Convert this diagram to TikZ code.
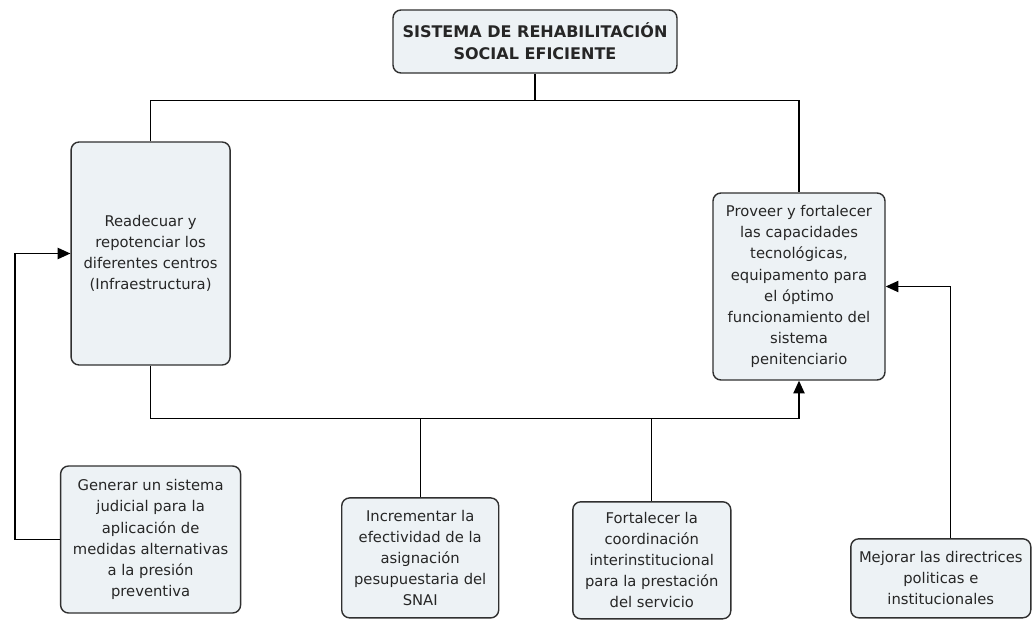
\documentclass[tikz,border=0pt]{standalone}
\usepackage{fontspec}
\setmainfont{DejaVu Sans}
\usepackage{tikz}
\usetikzlibrary{shapes.geometric, arrows.meta, calc}
\definecolor{boxfill}{HTML}{EDF2F5}
\definecolor{boxline}{HTML}{303030}
\definecolor{boxtext}{HTML}{262626}
\tikzstyle{mainbox} = [rectangle, rounded corners=0.2cm, minimum width=7.1cm, minimum height=1.575cm, align=center, draw=boxline, line width=1pt, fill=boxfill, text=boxtext, font=\fontsize{11.4}{15.5}\selectfont\bfseries]
\tikzstyle{taskbox} = [rectangle, rounded corners=0.2cm, inner sep=2pt, align=center, draw=boxline, line width=1pt, fill=boxfill, text=boxtext, font=\fontsize{10.5}{15}\selectfont]
\tikzstyle{connector} = [line width=0.9pt, draw=black]
\tikzstyle{arrow} = [line width=0.9pt, -{Triangle[length=9pt,width=8pt]}]

\begin{document}
\begin{tikzpicture}[node distance=2cm]
        \useasboundingbox (0,0) rectangle (25.8,-15.5);
        % Nodes
        \node (title) [mainbox] at (13.375,-1.0375) {SISTEMA DE REHABILITACIÓN\\SOCIAL EFICIENTE};
        \node (infra) [taskbox, minimum width=3.975cm, minimum height=5.575cm, below of=title, xshift=-9.61cm, yshift=-3.3cm] {Readecuar y\\repotenciar los\\diferentes centros\\(Infraestructura)};
        \node (proveer) [taskbox, minimum width=4.3cm, minimum height=4.675cm, below of=title, xshift=6.6cm, yshift=-4.125cm] {Proveer y fortalecer\\las capacidades\\tecnológicas,\\equipamento para\\el óptimo\\funcionamiento del\\sistema\\penitenciario};
        \node (generar) [taskbox, minimum width=4.5cm, minimum height=3.675cm, below of=infra, yshift=-5.15cm] {Generar un sistema\\judicial para la\\aplicación de\\medidas alternativas\\a la presión\\preventiva};
        \node (incrementar) [taskbox, minimum width=3.925cm, minimum height=3cm, right of=generar, xshift=4.74cm, yshift=-0.46cm] {Incrementar la\\efectividad de la\\asignación\\pesupuestaria del\\SNAI};
        \node (fortalecer) [taskbox, minimum width=3.95cm, minimum height=2.925cm, right of=incrementar, xshift=3.79cm, yshift=-0.06cm] {Fortalecer la\\coordinación\\interinstitucional\\para la prestación\\del servicio};
        \node (mejorar) [taskbox, minimum width=4.5cm, minimum height=1.975cm, right of=fortalecer, xshift=5.225cm, yshift=-0.45cm] {Mejorar las directrices\\politicas e\\institucionales};

        \coordinate (tjoin) at ($(title.south)+(0,-0.675)$);
        \coordinate (bjoin) at ($(infra.south)+(0,-1.325)$);
        \coordinate (gturn) at ($(generar.west)+(-1.125,0)$);
        \coordinate (mturn) at ($(mejorar.north)+(0.25,0)$);

        % Arrows
        \draw [connector] (title.south) -- (tjoin);
        \draw [connector] (infra.north) |- (tjoin) -| (proveer.north);
        \draw [arrow] (infra.south) -- (bjoin) -| (proveer.south);
        \draw [connector] (incrementar.north) -- (incrementar.north |- bjoin);
        \draw [connector] (fortalecer.north) -- (fortalecer.north |- bjoin);
        \draw [arrow] (generar.west) -- (gturn) |- (infra.west);
        \draw [arrow] (mturn) |- (proveer.east);
    \end{tikzpicture}
\end{document}
